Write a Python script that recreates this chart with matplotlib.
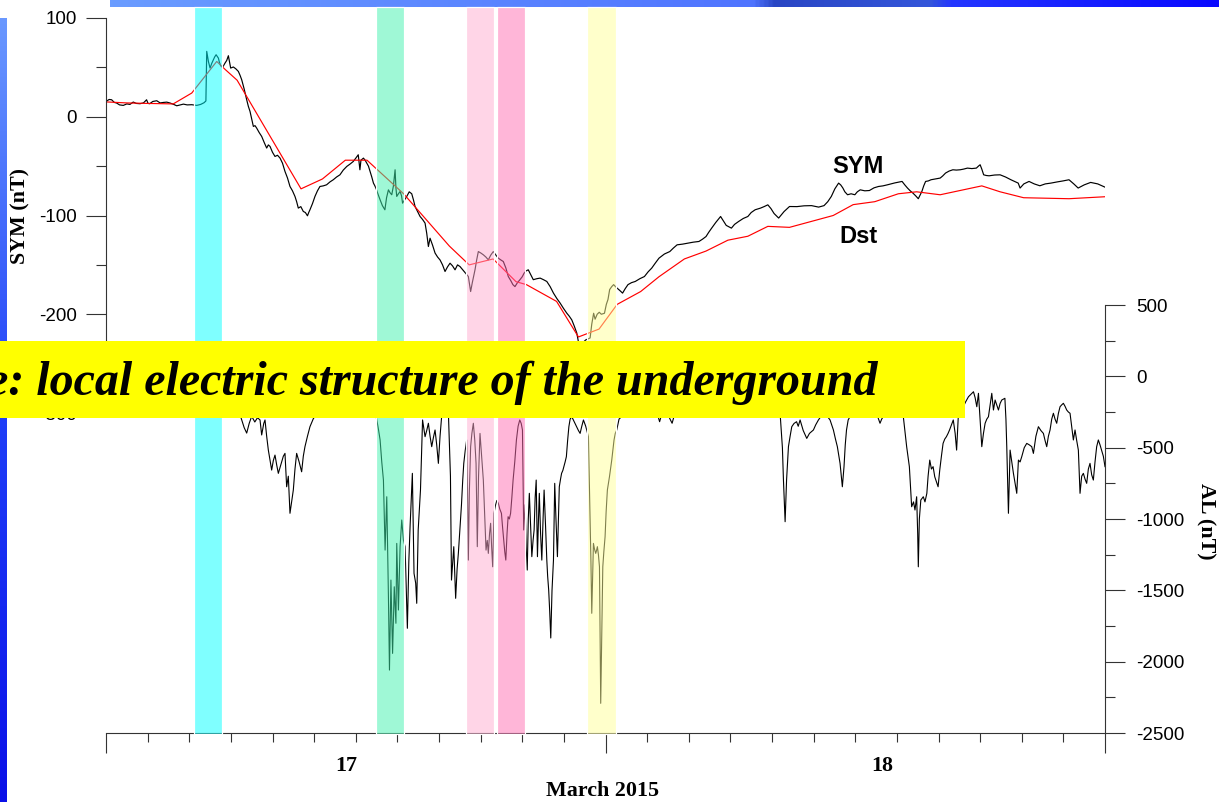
import numpy as np
import matplotlib
matplotlib.use("Agg")
import matplotlib.pyplot as plt
from matplotlib.patches import Rectangle
from matplotlib.colors import LinearSegmentedColormap
from matplotlib.transforms import blended_transform_factory

plt.rcParams['font.family'] = ['Liberation Sans', 'DejaVu Sans']
plt.rcParams['axes.unicode_minus'] = False

# ---------------------------------------------------------------- data
# time axis: hours since 2015-03-17 00:00 UT
SYM_T = [0.0, 0.15, 0.27, 0.4, 0.51, 0.65, 0.83, 1.0, 1.15, 1.31, 1.45, 1.63, 1.8, 1.95, 2.02, 2.1,
         2.25, 2.44, 2.6, 2.76, 2.92, 3.08, 3.25, 3.4, 3.56, 3.72, 3.9, 4.12, 4.25, 4.36, 4.55, 4.71,
         4.8, 4.84, 4.92, 5.0, 5.08, 5.16, 5.22, 5.29, 5.4, 5.45, 5.51, 5.6, 5.72, 5.8, 5.88, 5.94,
         5.99, 6.12, 6.24, 6.36, 6.44, 6.52, 6.64, 6.76, 6.84, 6.92, 7.0, 7.08, 7.16, 7.24, 7.36, 7.48,
         7.6, 7.72, 7.8, 7.88, 8.0, 8.12, 8.24, 8.36, 8.48, 8.6, 8.72, 8.84, 8.96, 9.08, 9.16, 9.24,
         9.36, 9.48, 9.58, 9.68, 9.74, 9.8, 9.92, 10.04, 10.16, 10.28, 10.44, 10.6, 10.76, 10.92, 11.08,
         11.24, 11.4, 11.57, 11.72, 11.88, 12.0, 12.12, 12.16, 12.2, 12.25, 12.37, 12.45, 12.53, 12.61,
         12.69, 12.77, 12.85, 12.92, 13.0, 13.08, 13.17, 13.28, 13.4, 13.48, 13.57, 13.65, 13.73, 13.81,
         13.89, 13.93, 13.97, 14.05, 14.13, 14.2, 14.25, 14.35, 14.45, 14.57, 14.69, 14.77, 14.85, 14.97,
         15.09, 15.21, 15.33, 15.41, 15.49, 15.57, 15.69, 15.81, 15.93, 16.05, 16.17, 16.29, 16.41, 16.53,
         16.65, 16.77, 16.89, 17.01, 17.1, 17.2, 17.3, 17.41, 17.47, 17.52, 17.6, 17.73, 17.81, 17.89,
         18.01, 18.13, 18.25, 18.37, 18.49, 18.61, 18.73, 18.85, 18.97, 19.09, 19.21, 19.33, 19.45, 19.55,
         19.65, 19.77, 19.89, 20.0, 20.09, 20.19, 20.29, 20.41, 20.53, 20.7, 20.86, 21.02, 21.18, 21.34,
         21.5, 21.66, 21.82, 21.98, 22.14, 22.26, 22.38, 22.5, 22.62, 22.7, 22.78, 22.86, 22.95, 23.05,
         23.15, 23.26, 23.34, 23.43, 23.5, 23.6, 23.7, 23.8, 23.95, 24.04, 24.12, 24.2, 24.3, 24.39,
         24.48, 24.56, 24.69, 24.82, 24.95, 25.08, 25.25, 25.43, 25.65, 25.87, 26.05, 26.22, 26.4, 26.57,
         26.83, 27.09, 27.26, 27.44, 27.7, 27.96, 28.22, 28.49, 28.66, 28.83, 28.96, 29.1, 29.3, 29.53,
         29.65, 29.8, 30.05, 30.2, 30.4, 30.62, 30.84, 31.0, 31.19, 31.45, 31.62, 31.8, 31.95, 32.1,
         32.32, 32.58, 32.84, 33.2, 33.54, 33.9, 34.24, 34.5, 34.68, 34.85, 35.02, 35.2, 35.3, 35.4,
         35.5, 35.63, 35.8, 35.98, 36.1, 36.24, 36.46, 36.68, 36.9, 37.12, 37.33, 37.55, 37.9, 38.25,
         38.38, 38.51, 38.64, 38.77, 38.9, 39.03, 39.1, 39.2, 39.29, 39.38, 39.51, 39.64, 39.86, 40.08,
         40.2, 40.34, 40.51, 40.69, 40.86, 41.04, 41.21, 41.39, 41.6, 41.82, 41.92, 42.0, 42.08, 42.17,
         42.3, 42.43, 42.7, 42.96, 43.22, 43.48, 43.66, 43.83, 43.92, 44.1, 44.35, 44.6, 44.87, 45.13,
         45.4, 45.7, 45.98, 46.27, 46.5, 46.71, 47.0, 47.31, 47.65, 48.0]
SYM_V = [15.5, 17.5, 17.2, 14.5, 13.9, 12.0, 11.5, 13.0, 12.5, 14.9, 13.5, 13.2, 14.0, 17.2, 13.5, 13.2,
         15.5, 16.2, 14.0, 14.5, 14.8, 13.9, 12.5, 11.1, 12.0, 12.8, 12.0, 12.2, 11.8, 11.5, 12.5, 14.2,
         16.0, 66.2, 56.0, 49.3, 54.0, 57.8, 60.5, 62.8, 59.4, 55.0, 51.7, 50.0, 54.4, 57.0, 61.8, 55.0,
         49.3, 50.4, 48.5, 45.9, 42.0, 37.5, 28.0, 17.2, 10.5, 5.4, -2.0, -9.8, -9.0, -11.5, -16.0, -19.9,
         -26.0, -31.7, -28.5, -30.0, -36.0, -40.2, -39.0, -41.8, -47.0, -55.4, -62.0, -70.6, -75.0, -80.7,
         -86.0, -92.5, -91.0, -95.9, -97.0, -100.3, -97.0, -94.2, -88.0, -80.7, -75.0, -70.6, -70.0, -68.9,
         -66.0, -63.8, -61.0, -58.8, -54.0, -50.3, -48.0, -45.3, -42.0, -38.5, -46.0, -53.7, -44.0, -41.9,
         -44.0, -46.9, -50.0, -55.4, -61.0, -67.2, -70.0, -74.0, -79.0, -84.1, -90.0, -94.2, -82.0, -74.0,
         -77.0, -79.0, -70.0, -53.7, -72.0, -80.7, -78.0, -75.7, -80.0, -87.5, -84.0, -80.7, -76.0, -78.0,
         -84.0, -90.9, -96.0, -101.0, -104.0, -107.7, -118.0, -131.4, -123.0, -130.0, -138.0, -142.0,
         -145.0, -150.0, -156.7, -152.0, -148.3, -151.0, -155.0, -150.0, -151.7, -154.0, -156.7, -159.0,
         -161.8, -170.0, -177.0, -168.0, -155.0, -145.0, -136.5, -138.0, -139.8, -142.0, -144.9, -140.0,
         -136.5, -140.0, -143.2, -145.0, -146.6, -153.0, -161.8, -166.0, -170.0, -172.0, -168.0, -165.0,
         -162.0, -158.4, -156.0, -155.0, -160.0, -165.0, -164.0, -163.4, -165.0, -166.8, -172.0, -178.6,
         -184.0, -188.7, -194.0, -198.9, -202.0, -205.7, -212.0, -219.0, -228.0, -234.0, -230.0, -228.0,
         -226.0, -225.0, -224.0, -210.0, -199.0, -205.0, -200.0, -198.0, -200.0, -199.0, -190.0, -185.0,
         -175.0, -172.0, -170.0, -172.0, -173.6, -176.0, -178.6, -174.0, -170.0, -168.0, -166.8, -164.0,
         -161.8, -157.0, -153.3, -148.0, -143.2, -139.0, -136.5, -133.0, -129.7, -129.0, -128.0, -127.0,
         -126.3, -124.0, -121.3, -117.0, -112.8, -107.0, -101.0, -105.0, -110.0, -112.8, -109.0, -106.0,
         -103.0, -101.0, -97.0, -94.2, -92.5, -91.0, -89.2, -93.0, -98.0, -102.6, -96.0, -90.9, -91.0,
         -90.2, -90.0, -91.5, -90.0, -86.0, -80.7, -73.0, -67.2, -69.0, -72.0, -76.0, -79.0, -78.0, -79.0,
         -76.0, -74.0, -75.0, -74.7, -72.0, -70.6, -70.0, -68.9, -67.0, -65.5, -69.0, -72.2, -75.0, -77.3,
         -80.0, -83.0, -80.0, -75.7, -70.0, -65.5, -65.0, -63.8, -63.0, -62.1, -60.0, -57.0, -55.0, -53.7,
         -54.0, -53.7, -53.0, -52.0, -52.5, -52.0, -50.0, -48.6, -53.0, -58.8, -59.5, -59.8, -59.0, -58.8,
         -61.0, -63.8, -65.5, -67.2, -72.2, -68.0, -65.5, -68.0, -69.9, -68.0, -67.2, -66.0, -65.0, -63.8,
         -68.0, -72.2, -69.0, -66.5, -68.0, -71.3]

DST_T = [0.03, 1.0, 2.0, 3.23, 4.12, 5.32, 5.72, 6.3, 9.37, 10.4, 11.5, 12.54, 14.3, 16.5, 17.45,
         18.6, 19.7, 20.2, 21.65, 22.7, 23.69, 24.56, 25.69, 26.57, 27.79, 28.83, 29.88, 30.84, 31.8,
         32.84, 34.94, 35.9, 36.94, 38.07, 38.95, 40.08, 42.08, 42.96, 44.09, 46.27, 48.0]
DST_V = [15, 14, 13.5, 13, 24, 56, 48, 37, -73, -63, -44, -44, -78, -131, -150,
         -144, -167, -170, -187, -223, -215, -190, -177, -162, -144, -136, -125, -121, -111,
         -112, -100, -89, -86, -78, -76, -79, -70, -76, -82, -83, -81]

AL_T = [0.0, 0.5, 1.0, 1.5, 2.0, 2.5, 3.0, 3.5, 4.0, 4.5, 4.8, 5.0, 5.3, 5.6, 5.9, 6.2, 6.4,
        6.52, 6.64, 6.76, 6.88, 7.0, 7.15, 7.28, 7.4, 7.48, 7.58, 7.64, 7.72, 7.8, 7.96, 8.04, 8.12,
        8.2, 8.28, 8.36, 8.44, 8.52, 8.6, 8.68, 8.76, 8.84, 8.92, 9.0, 9.08, 9.16, 9.28, 9.4, 9.48,
        9.56, 9.68, 9.8, 9.97, 10.3, 10.7, 11.1, 11.5, 11.9, 12.3, 12.7,
        13.0, 13.1, 13.17, 13.25, 13.33, 13.41, 13.49, 13.57, 13.62, 13.69, 13.77, 13.85, 13.93, 13.97,
        14.05, 14.13, 14.21, 14.29, 14.37, 14.43, 14.48, 14.55, 14.61, 14.67, 14.72, 14.8, 14.88, 14.93,
        15.0, 15.11, 15.21, 15.33, 15.41, 15.49, 15.57, 15.65, 15.73, 15.81, 15.89, 15.97, 16.05, 16.12,
        16.3, 16.45, 16.55, 16.6, 16.71, 16.8, 16.87, 16.93, 17.01, 17.08, 17.14, 17.19, 17.26, 17.33,
        17.38, 17.41, 17.46, 17.52, 17.58, 17.65, 17.72, 17.78, 17.84, 17.9, 17.97, 18.05, 18.13, 18.2,
        18.26, 18.32, 18.37, 18.43, 18.48, 18.53, 18.58, 18.64, 18.72, 18.78, 18.85, 18.92, 19.0, 19.05,
        19.11, 19.16, 19.21, 19.27, 19.32, 19.38, 19.44, 19.5, 19.56, 19.64, 19.72, 19.8, 19.88, 19.95,
        20.01, 20.07, 20.14, 20.19, 20.24, 20.29, 20.34, 20.4, 20.46, 20.52, 20.57, 20.62, 20.67, 20.73,
        20.78, 20.82, 20.88, 20.94, 21.0, 21.05, 21.12, 21.18, 21.22, 21.27, 21.32, 21.37, 21.43, 21.5,
        21.53, 21.56, 21.62, 21.69, 21.74, 21.78, 21.84, 21.89, 21.95, 22.0, 22.06, 22.12, 22.18, 22.24,
        22.3, 22.38, 22.5, 22.6, 22.7, 22.78, 22.86, 22.94, 23.05, 23.18, 23.22, 23.26, 23.3, 23.34,
        23.38, 23.42, 23.47, 23.53, 23.57, 23.61, 23.66, 23.71, 23.74, 23.77, 23.82, 23.87, 23.92, 23.98,
        24.03, 24.09, 24.14, 24.19, 24.25, 24.3, 24.36, 24.41, 24.47, 24.54, 24.65,
        25.0, 25.5, 26.0, 26.4, 26.6, 26.75, 27.0, 27.2, 27.35, 27.8, 28.3, 28.8, 29.3, 29.8, 30.3,
        30.8, 31.3, 31.8, 32.2, 32.4, 32.5, 32.55, 32.63, 32.7, 32.79, 32.87, 32.95, 33.06, 33.18,
        33.26, 33.35, 33.5, 33.67, 33.8, 33.99, 34.1, 34.23, 34.5, 34.79, 34.95, 35.05, 35.14, 35.27,
        35.38, 35.46, 35.52, 35.58, 35.66, 35.9, 36.3, 36.7, 37.0, 37.19, 37.27, 37.6, 38.0, 38.31,
        38.4, 38.47, 38.6, 38.71, 38.8, 38.87, 38.95, 39.0, 39.03, 39.08, 39.15, 39.27, 39.35, 39.44,
        39.5, 39.58, 39.66, 39.74, 39.82, 39.9, 39.98, 40.06, 40.14, 40.22, 40.3, 40.38, 40.46, 40.53,
        40.62, 40.71, 40.8, 40.87, 40.95, 41.07, 41.19, 41.3, 41.44, 41.56, 41.68, 41.76, 41.84, 41.92,
        42.0, 42.08, 42.16, 42.24, 42.32, 42.4, 42.48, 42.56, 42.64, 42.72, 42.8, 42.88, 42.96, 43.04,
        43.12, 43.19, 43.24, 43.28, 43.36, 43.44, 43.52, 43.6, 43.68, 43.76, 43.84, 43.92, 44.0, 44.12,
        44.24, 44.36, 44.48, 44.56, 44.68, 44.8, 44.92, 45.04, 45.12, 45.2, 45.28, 45.36, 45.44, 45.52,
        45.6, 45.68, 45.76, 45.84, 45.92, 46.0, 46.08, 46.16, 46.24, 46.32, 46.4, 46.48, 46.56, 46.64,
        46.72, 46.8, 46.88, 46.96, 47.04, 47.12, 47.2, 47.28, 47.36, 47.44, 47.52, 47.6, 47.68, 47.76,
        47.84, 47.92, 48.0]
AL_V = [-40, -60, -35, -80, -50, -110, -70, -130, -90, -60, -150, -220, -160, -240, -200, -270, -250,
        -306, -360, -398, -330, -280, -320, -290, -306, -411, -330, -306, -420, -517, -657, -590, -552,
        -620, -680, -640, -598, -560, -540, -774, -700, -960, -880, -797, -650, -540, -600, -669, -560,
        -493, -420, -353, -294, -250, -200, -240, -180, -220, -160, -230,
        -294, -380, -446, -600, -727, -1218, -844, -1545, -2059, -1428, -1942, -1475, -1731, -1171,
        -1638, -1194, -1007, -1147, -1194, -1500, -1766, -1300, -1054, -850, -680, -1381, -1450, -1591,
        -1077, -797, -306, -423, -380, -329, -420, -493, -430, -376, -480, -610, -420, -294,
        -180, -250, -700, -1428, -1194, -1556, -1350, -1241, -1054, -900, -727, -610, -520, -446,
        -900, -1288, -800, -493, -400, -329, -450, -610, -1194, -700, -400, -563, -727, -1000,
        -1218, -1150, -1241, -1100, -1030, -1200, -1335, -960, -900, -870, -890, -930, -960, -1050,
        -1147, -1230, -1288, -1100, -984, -1000, -960, -850, -727, -600, -446, -350, -306, -330,
        -376, -1077, -900, -1200, -1358, -1000, -820, -1050, -1264, -1150, -1077, -850, -727, -1264,
        -1000, -820, -1100, -1288, -1000, -797, -1050, -1288, -1400, -1498, -1650, -1834, -1500, -1288,
        -1000, -750, -1000, -1264, -1000, -774, -720, -680, -660, -633, -600, -563, -450, -353,
        -300, -283, -320, -350, -380, -400, -350, -306, -350, -423, -700, -1007, -1300, -1661,
        -1400, -1171, -1210, -1241, -1220, -1194, -1250, -1335, -1800, -2292, -1800, -1335, -1230, -1124,
        -950, -797, -750, -704, -640, -587, -510, -446, -400, -376, -300,
        -250, -200, -260, -220, -318, -240, -270, -329, -250, -200, -150, -220, -180, -240, -200,
        -160, -230, -190, -250, -283, -500, -727, -1019, -727, -493, -420, -353, -330, -318,
        -350, -306, -380, -435, -400, -376, -340, -306, -250, -306, -376, -440, -493, -610,
        -774, -633, -480, -376, -306, -240, -200, -260, -250, -329, -300, -220, -250, -283,
        -400, -493, -633, -914, -880, -937, -844, -1100, -1335, -1000, -867, -844, -880, -820,
        -700, -587, -650, -633, -704, -740, -774, -657, -560, -470, -440, -423, -400, -376,
        -340, -306, -400, -517, -283, -250, -213, -180, -143, -125, -108, -150, -213, -119,
        -300, -493, -400, -329, -300, -283, -200, -119, -236, -166, -200, -236, -190, -166,
        -160, -154, -300, -493, -960, -517, -600, -680, -750, -820, -587, -600, -563, -500,
        -470, -480, -493, -540, -420, -353, -380, -400, -450, -493, -420, -376, -300, -259,
        -300, -329, -260, -213, -200, -189, -210, -236, -250, -259, -350, -446, -376, -450,
        -517, -820, -700, -680, -720, -750, -650, -610, -690, -727, -600, -493, -446, -480,
        -520, -560, -633]

# highlighted intervals (start h, end h, colour)
BAND_START = [4.23, 12.98, 17.30, 18.78, 23.13]
BAND_END = [5.59, 14.33, 18.66, 20.14, 24.50]
BAND_COLOR = ['#00FFFF', '#41F3AF', '#FFADD1', '#FF6FB3', '#FFFF99']

DAY_LABELS = ['17', '18']
DAY_LABEL_POS = [11.53, 37.3]
SYM_TICKS = [100, 0, -100, -200, -300]
AL_TICKS = [500, 0, -500, -1000, -1500, -2000, -2500]

# ---------------------------------------------------------------- figure
W, H, DPI = 1219, 802, 100
fig = plt.figure(figsize=(W / DPI, H / DPI), dpi=DPI, facecolor='white')


def fx(px):
    return px / W


def fy(py):
    return 1 - py / H


AXC = '#333333'
PT = 72.0 / DPI  # points per pixel

# slide decoration: blue bars along the top and left edges
bg = fig.add_axes([0, 0, 1, 1])
bg.set_xlim(0, W)
bg.set_ylim(H, 0)
bg.axis('off')
bg.set_zorder(0)
top_cmap = LinearSegmentedColormap.from_list(
    'topbar', [(0.0, '#6A9CFF'), (0.58, '#4F74FF'), (0.60, '#2946C4'),
               (0.74, '#3456DA'), (0.76, '#2436FF'), (1.0, '#0808FF')])
bg.imshow(np.linspace(0, 1, 512)[None, :], cmap=top_cmap, aspect='auto',
          extent=(110, W, 7, 0), interpolation='bilinear')
left_cmap = LinearSegmentedColormap.from_list('leftbar', ['#6A98FF', '#2040F8', '#0A10E8'])
bg.imshow(np.linspace(0, 1, 512)[:, None], cmap=left_cmap, aspect='auto',
          extent=(0, 7, 802, 18), interpolation='bilinear')
bg.set_xlim(0, W)
bg.set_ylim(H, 0)

# upper panel: SYM-H and Dst
ax_sym = fig.add_axes([fx(106), fy(413), fx(1105) - fx(106), fy(18) - fy(413)])
ax_sym.set_zorder(1)
ax_sym.patch.set_visible(False)
ax_sym.plot(SYM_T, SYM_V, color='black', lw=0.85)
ax_sym.plot(DST_T, DST_V, color='#FF0000', lw=0.85)
ax_sym.set_xlim(0, 48)
ax_sym.set_ylim(-300, 100)
for s in ['top', 'right', 'bottom']:
    ax_sym.spines[s].set_visible(False)
ax_sym.spines['left'].set_color(AXC)
ax_sym.spines['left'].set_linewidth(0.8)
ax_sym.tick_params(axis='x', which='both', bottom=False, labelbottom=False)
ax_sym.set_yticks(SYM_TICKS)
ax_sym.set_yticks([50, -50, -150, -250], minor=True)
ax_sym.tick_params(axis='y', which='major', length=20 * PT, width=0.8, color=AXC,
                   labelsize=13.5, pad=9 * PT)
ax_sym.tick_params(axis='y', which='minor', length=10 * PT, width=0.8, color=AXC)
ax_sym.text(36.14, -50.7, 'SYM', fontsize=17, fontweight='bold', ha='center', va='center')
ax_sym.text(36.14, -121.6, 'Dst', fontsize=17, fontweight='bold', ha='center', va='center')

# lower panel: AL
ax_al = fig.add_axes([fx(106), fy(733), fx(1105) - fx(106), fy(305) - fy(733)])
ax_al.set_zorder(2)
ax_al.patch.set_visible(False)
ax_al.plot(AL_T, AL_V, color='black', lw=0.8)
for s in ['top', 'left']:
    ax_al.spines[s].set_visible(False)
for s in ['right', 'bottom']:
    ax_al.spines[s].set_color(AXC)
    ax_al.spines[s].set_linewidth(0.8)
ax_al.yaxis.tick_right()
ax_al.set_yticks(AL_TICKS)
ax_al.set_yticks(np.arange(-2250, 500, 500), minor=True)
ax_al.tick_params(axis='y', which='major', length=20 * PT, width=0.8, color=AXC,
                  labelsize=13.5, pad=11 * PT)
ax_al.tick_params(axis='y', which='minor', length=10 * PT, width=0.8, color=AXC)
ax_al.set_xticks([0, 24, 48])
ax_al.set_xticks(np.arange(2, 48, 2), minor=True)
ax_al.tick_params(axis='x', which='major', length=20 * PT, width=0.8, color=AXC, labelbottom=False)
ax_al.tick_params(axis='x', which='minor', length=9 * PT, width=0.8, color=AXC)

# shaded intervals spanning both panels
band_tr = blended_transform_factory(ax_al.transData, fig.transFigure)
for t0, t1, c in zip(BAND_START, BAND_END, BAND_COLOR):
    rgba = matplotlib.colors.to_rgba(c, 0.5)
    ax_al.add_patch(Rectangle((t0, fy(734.3)), t1 - t0, fy(7.3) - fy(734.3), transform=band_tr,
                              facecolor=rgba, edgecolor='white', lw=1.2 * PT,
                              zorder=10, clip_on=False))
ax_al.set_xlim(0, 48)
ax_al.set_ylim(-2500, 500)

day_tr = blended_transform_factory(ax_al.transData, fig.transFigure)
for lab, pos in zip(DAY_LABELS, DAY_LABEL_POS):
    ax_al.text(pos, fy(766), lab, transform=day_tr, family='Liberation Serif',
               fontweight='bold', fontsize=15.8, ha='center', va='center')

fig.text(fx(603), fy(791), 'March 2015', family='Liberation Serif', fontweight='bold',
         fontsize=15.8, ha='center', va='center')
fig.text(fx(20), fy(215.5), 'SYM (nT)', family='Liberation Serif', fontweight='bold',
         fontsize=15.8, rotation=90, ha='center', va='center')
fig.text(fx(1206), fy(521), 'AL (nT)', family='Liberation Serif', fontweight='bold',
         fontsize=15.8, rotation=270, ha='center', va='center')

# caption banner
ov = fig.add_axes([0, 0, 1, 1])
ov.set_zorder(5)
ov.patch.set_visible(False)
ov.axis('off')
ov.set_xlim(0, W)
ov.set_ylim(H, 0)
ov.add_patch(Rectangle((0, 341), 965, 77, facecolor='#FFFF00', edgecolor='none'))
ov.text(-13, 395, 'e: local electric structure of the underground', family='Liberation Serif',
        style='italic', fontweight='bold', fontsize=34.6, ha='left', va='baseline', color='black')

fig.savefig('out.png', dpi=DPI, facecolor='white')
